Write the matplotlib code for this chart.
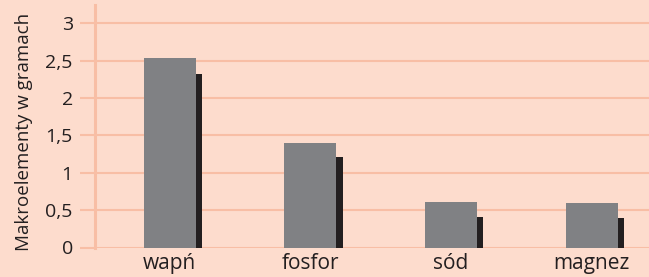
import matplotlib
matplotlib.use("Agg")
import matplotlib.pyplot as plt
import numpy as np

categories = ["wapń", "fosfor", "sód", "magnez"]
front_values = [2.53, 1.40, 0.61, 0.60]
back_values = [2.32, 1.21, 0.41, 0.39]
yticks = [0, 0.5, 1, 1.5, 2, 2.5, 3]
ytick_labels = ["0", "0,5", "1", "1,5", "2", "2,5", "3"]
ylabel = "Makroelementy w gramach"

bg = "#fddccd"
grid_c = "#f8bea5"
gray = "#808184"
dark = "#231f20"

plt.rcParams['font.family'] = ['Open Sans', 'DejaVu Sans']

fig = plt.figure(figsize=(6.49, 2.77), dpi=100)
fig.patch.set_facecolor(bg)
ax = fig.add_axes([95/649, 29.5/277, 1 - 95/649, (272 - 29.5)/277])
ax.set_facecolor(bg)

x = np.arange(len(categories))
w = 0.37
dw = 0.045
ax.bar(x - w/2, front_values, width=w, align='edge', color=gray, zorder=3)
ax.bar(x + w/2, back_values, width=dw, align='edge', color=dark, zorder=3)

ax.set_xlim(-0.531, 3.407)
ax.set_ylim(0, 3.245)

ax.set_yticks(yticks)
ax.set_yticklabels(ytick_labels)
ax.yaxis.grid(True, color=grid_c, linewidth=1.5, zorder=0)
ax.set_axisbelow(True)
ax.tick_params(axis='y', length=11, width=1.5, color=grid_c, pad=5, labelsize=14, labelcolor="#231f20")
ax.set_xticks(x)
ax.set_xticklabels(categories)
ax.tick_params(axis='x', length=0, pad=4, labelsize=15, labelcolor="#231f20")

for s in ['top', 'right', 'bottom']:
    ax.spines[s].set_visible(False)
ax.spines['left'].set_color(grid_c)
ax.spines['left'].set_linewidth(2.2)
ax.spines['left'].set_zorder(1)

ax.set_ylabel(ylabel, fontsize=13.5, color="#231f20")
ax.yaxis.set_label_coords(-0.112, 0.476)

fig.savefig("out.png", dpi=100, facecolor=bg)
